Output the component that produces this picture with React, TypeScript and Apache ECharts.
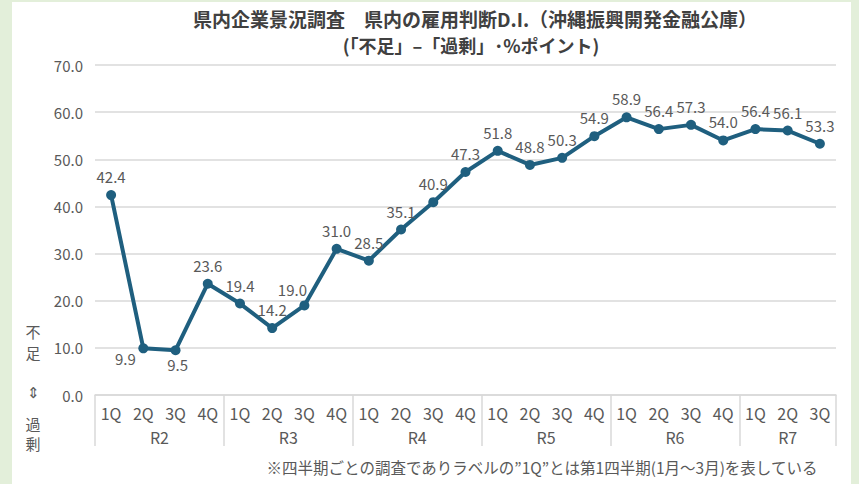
import React, { useEffect, useRef } from "react";
import * as echarts from "echarts";

const quarterLabels = [
  "1Q", "2Q", "3Q", "4Q",
  "1Q", "2Q", "3Q", "4Q",
  "1Q", "2Q", "3Q", "4Q",
  "1Q", "2Q", "3Q", "4Q",
  "1Q", "2Q", "3Q", "4Q",
  "1Q", "2Q", "3Q",
];
const yearGroups = ["R2", "R3", "R4", "R5", "R6", "R7"];
const yearGroupSizes = [4, 4, 4, 4, 4, 3];
const diValues = [
  42.4, 9.9, 9.5, 23.6, 19.4, 14.2, 19.0, 31.0, 28.5, 35.1, 40.9, 47.3,
  51.8, 48.8, 50.3, 54.9, 58.9, 56.4, 57.3, 54.0, 56.4, 56.1, 53.3,
];
const yTicks = { min: 0, max: 70, interval: 10 };

const titleLine1 = "県内企業景況調査　県内の雇用判断D.I.（沖縄振興開発金融公庫）";
const titleLine2 = "(「不足」–「過剰」･%ポイント)";
const footnote = "※四半期ごとの調査でありラベルの”1Q”とは第1四半期(1月～3月)を表している";
const sideNote = [
  { text: "不", y: 331 },
  { text: "足", y: 352 },
  { text: "⇕", y: 391 },
  { text: "過", y: 423 },
  { text: "剰", y: 443 },
];

const FONT = '"Noto Sans CJK JP", "Noto Sans", sans-serif';
const GRAY = "#595959";
const GRID = "#d9d9d9";

export default function App() {
  const ref = useRef<HTMLDivElement>(null);

  useEffect(() => {
    if (!ref.current) return;
    const chart = echarts.init(ref.current, undefined, { renderer: "svg" });

    // half-step category axis for the year group row
    const n = quarterLabels.length;
    const groupAxisData: string[] = new Array(2 * n + 1).fill("");
    const boundaryIdx: number[] = [0];
    const labelIdx: number[] = [];
    let start = 0;
    yearGroups.forEach((g, i) => {
      const size = yearGroupSizes[i];
      const c = 2 * start + size;
      groupAxisData[c] = g;
      labelIdx.push(c);
      start += size;
      boundaryIdx.push(2 * start);
    });

    const labelOverrides: Record<number, any> = {
      1: { position: "bottom", offset: [-18, -8] },
      2: { position: "bottom", offset: [2, -4] },
      6: { position: "top", offset: [-12, 3] },
    };

    const seriesData = diValues.map((v, i) =>
      labelOverrides[i] ? { value: v, label: labelOverrides[i] } : v
    );

    const sideTitles = sideNote.map((s) => ({
      text: s.text,
      left: 33,
      top: s.y - 7.5,
      textAlign: "center",
      padding: 0,
      textStyle: { fontFamily: FONT, fontSize: 15, fontWeight: "normal", color: GRAY, lineHeight: 15 },
    }));

    chart.setOption({
      animation: false,
      textStyle: { fontFamily: FONT },
      title: [
        {
          text: titleLine1,
          left: 475,
          top: 9,
          textAlign: "center",
          padding: 0,
          textStyle: { fontFamily: FONT, fontSize: 19, fontWeight: "bold", color: "#404040", lineHeight: 19 },
        },
        {
          text: titleLine2,
          left: 471,
          top: 36,
          textAlign: "center",
          padding: 0,
          textStyle: { fontFamily: FONT, fontSize: 18, fontWeight: "bold", color: "#404040", lineHeight: 18 },
        },
        {
          text: footnote,
          left: 542,
          top: 459,
          textAlign: "center",
          padding: 0,
          textStyle: { fontFamily: FONT, fontSize: 15.5, fontWeight: "normal", color: GRAY },
        },
        ...sideTitles,
      ],
      grid: { left: 95, right: 23, top: 65, bottom: 89, containLabel: false },
      xAxis: [
        {
          type: "category",
          data: quarterLabels,
          position: "bottom",
          axisLine: { show: true, lineStyle: { color: GRID, width: 1.5 } },
          axisTick: { show: false },
          axisLabel: { interval: 0, margin: 10, fontSize: 16, color: GRAY, fontFamily: FONT },
        },
        {
          type: "category",
          data: groupAxisData,
          position: "bottom",
          boundaryGap: false,
          axisLine: { show: false },
          axisTick: {
            show: true,
            length: 51,
            interval: (index: number) => boundaryIdx.indexOf(index) >= 0,
            lineStyle: { color: GRID, width: 1.5 },
          },
          axisLabel: {
            interval: (index: number) => labelIdx.indexOf(index) >= 0,
            margin: 34,
            fontSize: 16,
            color: GRAY,
            fontFamily: FONT,
          },
          splitLine: { show: false },
        },
      ],
      yAxis: {
        type: "value",
        min: yTicks.min,
        max: yTicks.max,
        interval: yTicks.interval,
        axisLine: { show: false },
        axisTick: { show: false },
        axisLabel: {
          margin: 12,
          fontSize: 15,
          color: GRAY,
          fontFamily: FONT,
          formatter: (v: number) => v.toFixed(1),
        },
        splitLine: { lineStyle: { color: GRID, width: 1.5 } },
      },
      series: [
        {
          type: "line",
          xAxisIndex: 0,
          data: seriesData,
          symbol: "circle",
          symbolSize: 10,
          lineStyle: { color: "#1f5f7f", width: 4 },
          itemStyle: { color: "#1f5f7f" },
          label: {
            show: true,
            position: "top",
            distance: 6,
            fontSize: 15,
            color: GRAY,
            fontFamily: FONT,
            formatter: (p: any) => Number(p.value).toFixed(1),
          },
        },
      ],
    });

    return () => chart.dispose();
  }, []);

  return (
    <div style={{ position: "fixed", left: 0, top: 0, width: 859, height: 484, background: "#e3efda" }}>
      <div style={{ position: "absolute", left: 12, top: 2, width: 839, height: 482, background: "#ffffff" }} />
      <div ref={ref} style={{ position: "absolute", left: 0, top: 0, width: 859, height: 484 }} />
    </div>
  );
}
